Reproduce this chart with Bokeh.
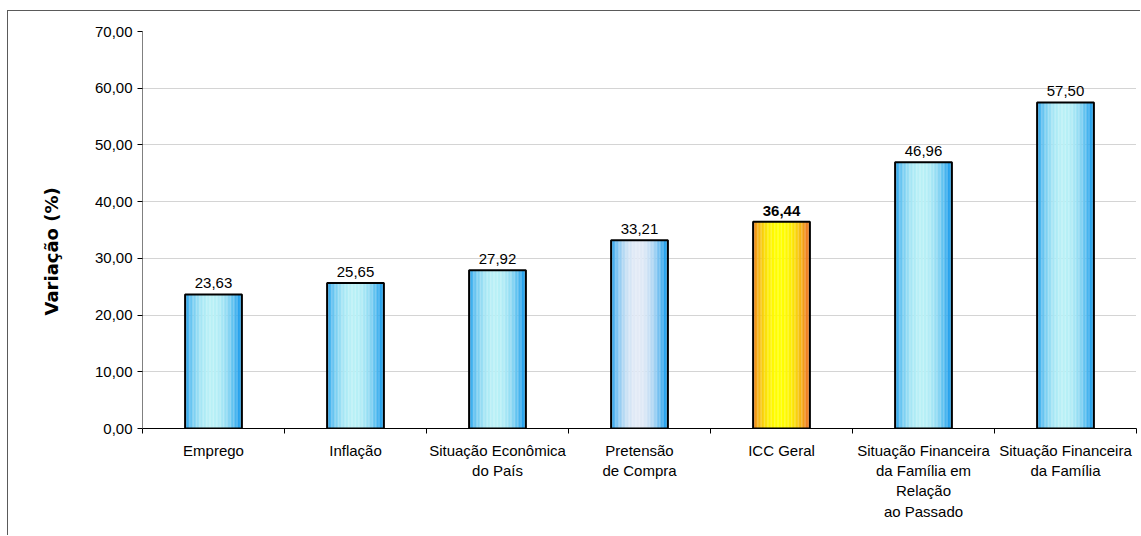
from bokeh.plotting import figure
from bokeh.models import FixedTicker, Range1d, ColumnDataSource, Title
from bokeh.core.properties import value
from bokeh.embed import file_html
from bokeh.resources import INLINE

categories = ["Emprego", "Inflação", "Situação Econômica\ndo País", "Pretensão\nde Compra",
              "ICC Geral", "Situação Financeira\nda Família em\nRelação\nao Passado",
              "Situação Financeira\nda Família"]
values = [23.63, 25.65, 27.92, 33.21, 36.44, 46.96, 57.50]
labels = ["23,63", "25,65", "27,92", "33,21", "36,44", "46,96", "57,50"]
# gradient style per bar: (edge colour, centre colour)
styles = ["blue", "blue", "blue", "pale", "orange", "blue", "blue"]
y_ticks = [0, 10, 20, 30, 40, 50, 60, 70]
y_title = "Variação (%)"

palette = {
    "blue": ((0x26, 0xa2, 0xec), (0xb8, 0xf0, 0xf6)),
    "pale": ((0x26, 0xa2, 0xec), (0xe2, 0xea, 0xf6)),
    "orange": ((0xee, 0x80, 0x20), (0xff, 0xff, 0x00)),
}

FONT = "Liberation Sans"
FS = "15px"

p = figure(width=1133, height=525, output_backend="svg", toolbar_location=None,
           x_range=Range1d(0, len(categories)), y_range=Range1d(0, 70),
           min_border_left=134, min_border_right=5, min_border_top=20, min_border_bottom=108)
p.styles = {"margin-left": "7px", "margin-top": "10px",
            "border-left": "1px solid #5a5a5a", "border-top": "1px solid #5a5a5a"}
p.outline_line_color = None
p.xgrid.grid_line_color = None
p.ygrid.grid_line_color = "#a8a8a8"
p.ygrid.grid_line_dash = "1 1"
p.ygrid.ticker = FixedTicker(ticks=y_ticks)

# gradient bars from strips
N = 40
bw = 0.4
L, R, T, C = [], [], [], []
for i, (v, s) in enumerate(zip(values, styles)):
    edge, cen = palette[s]
    x0 = i + 0.5 - bw / 2
    for k in range(N):
        t = (k + 0.5) / N
        d = abs(t - 0.47) / 0.47
        d = min(d, 1.0)
        f = max(0.0, 1 - d ** 2.2)
        col = tuple(int(round(e + (c - e) * f)) for e, c in zip(edge, cen))
        L.append(x0 + bw * k / N)
        R.append(x0 + bw * (k + 1) / N + 0.0005)
        T.append(v)
        C.append("#%02x%02x%02x" % col)
p.quad(left=L, right=R, bottom=0, top=T, fill_color=C, line_color=None)

xs = [i + 0.5 for i in range(len(categories))]
p.vbar(x=xs, top=values, width=bw, bottom=0, fill_color=None, line_color="black", line_width=2)

src = ColumnDataSource(dict(x=xs, y=values, t=labels,
                            w=["bold" if s == "orange" else "normal" for s in styles]))
p.text(x="x", y="y", text="t", source=src, text_align="center", text_baseline="bottom",
       y_offset=-6, text_font=value(FONT), text_font_size=FS, text_font_style="w",
       text_color="black")

# x axis
xa = p.xaxis[0]
xa.ticker = FixedTicker(ticks=xs, minor_ticks=list(range(len(categories) + 1)))
xa.major_label_overrides = {x: c for x, c in zip(xs, categories)}
xa.major_tick_line_color = None
xa.minor_tick_line_color = "black"
xa.minor_tick_out = 5
xa.minor_tick_in = 0
xa.axis_line_color = "black"
xa.major_label_text_font = FONT
xa.major_label_text_font_size = FS
xa.major_label_text_color = "black"
xa.major_label_standoff = 7

ya = p.yaxis[0]
ya.ticker = FixedTicker(ticks=y_ticks)
ya.major_label_overrides = {t: f"{t},00" for t in y_ticks}
ya.minor_tick_line_color = None
ya.major_tick_out = 5
ya.major_tick_in = 0
ya.axis_line_color = "#808080"
ya.major_tick_line_color = "black"
ya.major_label_text_font = FONT
ya.major_label_text_font_size = FS
ya.major_label_text_color = "black"

ttl = Title(text=y_title, align="left", offset=113, standoff=59,
            text_font="DejaVu Sans", text_font_size="18px", text_font_style="bold",
            text_color="black")
p.add_layout(ttl, "left")

open("out.html", "w").write(file_html(p, INLINE))
